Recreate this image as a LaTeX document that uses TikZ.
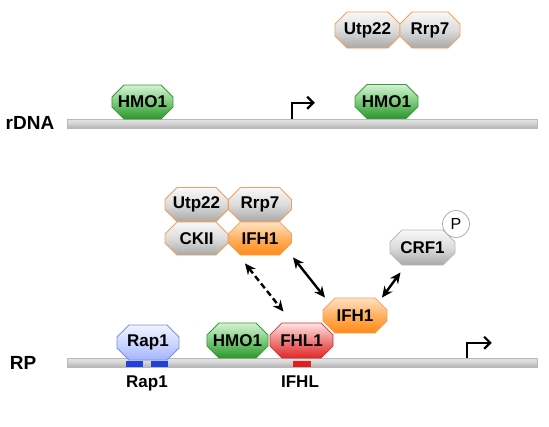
\documentclass[tikz,border=0pt]{standalone}
\usepackage{fontspec}
\setmainfont{Liberation Sans}
\usetikzlibrary{shapes.misc,arrows.meta,calc}
\definecolor{orB}{HTML}{F0A060}
\definecolor{orT}{HTML}{FFE2C4}
\definecolor{orM}{HTML}{FFB060}
\definecolor{orD}{HTML}{FF8A14}
\definecolor{gT}{HTML}{F8F8F8}
\definecolor{gM}{HTML}{DCDCDC}
\definecolor{gD}{HTML}{A8A8A8}
\definecolor{grB}{HTML}{3A9A3A}
\definecolor{grT}{HTML}{D4F2D4}
\definecolor{grM}{HTML}{7CCB7C}
\definecolor{grD}{HTML}{2C952C}
\definecolor{rdB}{HTML}{D03030}
\definecolor{rdT}{HTML}{FFE4E4}
\definecolor{rdM}{HTML}{F08080}
\definecolor{rdD}{HTML}{E02828}
\definecolor{blB}{HTML}{7C8CE6}
\definecolor{blT}{HTML}{F0F3FF}
\definecolor{blM}{HTML}{CED8FF}
\definecolor{blD}{HTML}{A4B4FF}
\definecolor{markB}{HTML}{2040E0}
\definecolor{markR}{HTML}{E02020}
\newcommand{\boxfnt}{\fontsize{17}{19}\selectfont\bfseries}
\tikzset{
  box/.style={chamfered rectangle, chamfered rectangle xsep=6pt, chamfered rectangle ysep=6pt,
    minimum width=63pt, minimum height=35pt, inner sep=0pt, line width=0.8pt, font=\boxfnt},
  orgray/.style={box, draw=orB, top color=gT, bottom color=gD, middle color=gM},
  orbox/.style={box, draw=orB, top color=orT, bottom color=orD, middle color=orM},
  gybox/.style={box, draw=gray!55, top color=gT, bottom color=gD, middle color=gM},
  grbox/.style={box, draw=grB, top color=grT, bottom color=grD, middle color=grM},
  rdbox/.style={box, draw=rdB, top color=rdT, bottom color=rdD, middle color=rdM},
  blbox/.style={box, draw=blB, top color=blT, bottom color=blD, middle color=blM},
  dnabar/.style={rectangle, draw=gray!55, line width=0.5pt, top color=gray!20, bottom color=gray!60,
    middle color=gray!35, minimum width=470pt, minimum height=9pt, inner sep=0pt},
  site/.style={rectangle, inner sep=0pt, minimum height=6pt},
  prom/.style={line width=2.2pt, -{Straight Barb[length=6pt,width=12pt,line width=2.2pt]}},
  biarrow/.style={line width=2.4pt, {Stealth[length=11pt,width=10pt]}-{Stealth[length=11pt,width=10pt]}},
  rowlabel/.style={font=\fontsize{19}{21}\selectfont\bfseries, inner sep=0pt},
  sitelabel/.style={font=\fontsize{17}{19}\selectfont\bfseries, inner sep=0pt}
}
\begin{document}
\begin{tikzpicture}[x=1pt,y=-1pt]
\useasboundingbox (0,0) rectangle (549,426);
\fill[white] (0,0) rectangle (549,426);
% top complex
\node[orgray, minimum width=65pt, minimum height=36pt] (utpA) at (367.5,30) {Utp22};
\node[orgray, minimum width=60pt, minimum height=36pt] (rrpA) at (430,30) {Rrp7};
% rDNA
\node[rowlabel] (lblA) at (30,123) {rDNA};
\node[dnabar] (dnaA) at (302,123.5) {};
\node[grbox, minimum width=59pt, minimum height=34pt] (hmoA) at (142.5,102) {HMO1};
\node[grbox, minimum width=63pt, minimum height=34pt] (hmoB) at (386.5,101.5) {HMO1};
\draw[prom] ($(dnaA.north west)+(225,0)$) coordinate (promA) |- ++(23,-16) coordinate (promAend);
% cluster
\node[orgray, minimum height=34pt] (utpC) at (196.5,204.5) {Utp22};
\node[orgray, minimum height=34pt] (rrpC) at (260,204.5) {Rrp7};
\node[orgray, minimum height=33pt] (ckii) at (196.5,238.5) {CKII};
\node[orbox, minimum height=33pt] (ifhC) at (260,238.5) {IFH1};
% CRF1
\node[gybox, minimum width=65pt] (crf) at (422.5,247.5) {CRF1};
\node[circle, draw=gray!70, line width=0.7pt, fill=white, minimum size=27pt, inner sep=0pt,
  font=\fontsize{16}{16}\selectfont] (phos) at (456,224) {P};
% RP
\node[rowlabel] (lblB) at (23,363) {RP};
\node[dnabar] (dnaB) at (302,362.5) {};
\node[site, fill=markB, minimum width=17pt] (s1) at (134.5,364) {};
\node[site, fill=markB, minimum width=17pt] (s2) at (159.5,364) {};
\node[site, fill=markR, minimum width=18pt] (s3) at (302,364) {};
\node[blbox, minimum width=62pt] (rap) at (148,342.5) {Rap1};
\node[grbox, minimum width=61pt] (hmoR) at (237.5,340.5) {HMO1};
\node[rdbox, minimum width=63pt] (fhl) at (301.5,340.5) {FHL1};
\node[orbox, minimum width=64pt] (ifhD) at (355,315.5) {IFH1};
\node[sitelabel] (lblRap) at (147,383) {Rap1};
\node[sitelabel] (lblIfhl) at (300,382) {IFHL};
\draw[prom] ($(dnaB.north west)+(400,0)$) coordinate (promB) |- ++(25,-15) coordinate (promBend);
% interactions
\draw[biarrow, dash pattern=on 6pt off 3.5pt] ($(ifhC.south)+(-15,8)$) -- ($(fhl.north)+(-18,-11)$);
\draw[biarrow] ($(ifhC.south)+(33,2)$) -- ($(ifhD.north)+(-30,0)$);
\draw[biarrow] ($(ifhD.north)+(27,0)$) -- ($(crf.south)+(-22,7)$);
\end{tikzpicture}
\end{document}
